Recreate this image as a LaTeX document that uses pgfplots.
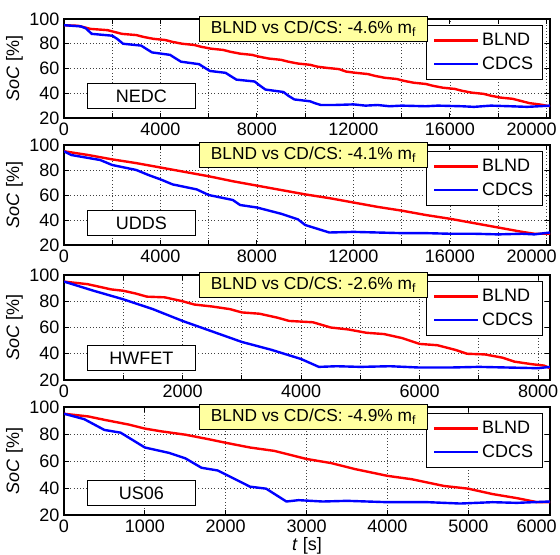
\documentclass[border=0pt]{standalone}
\usepackage{fontspec}
\setmainfont{Liberation Sans}
\usepackage{pgfplots}
\pgfplotsset{compat=1.18}
\newcommand\fs{\fontsize{13.5pt}{16pt}\selectfont}
\definecolor{annoyellow}{RGB}{255,255,160}

\pgfplotsset{
  panel/.style={
    scale only axis, width=364.5pt, anchor=south west,
    ymin=20, ymax=100, ytick={20,40,...,100},
    grid=major, grid style={black!75, dotted, line width=0.6pt},
    axis line style={line width=0.9pt},
    major tick length=3.75pt, tick style={black, line width=0.7pt},
    tick label style={font=\fs},
    /pgf/number format/assume math mode=true,
    scaled x ticks=false,
    ylabel={\fs\textit{SoC} [\%]},
    ylabel style={yshift=-2pt},
    every axis plot/.append style={line width=1.8pt},
    legend style={font=\fs, draw=black, line width=0.7pt, fill=white,
      at={(1,1)}, anchor=north east, xshift=-5.25pt, yshift=-4.5pt,
      inner xsep=5pt, inner ysep=4pt, row sep=2.5pt},
    legend cell align=left,
    legend image code/.code={\draw[##1] (0pt,0pt) -- (33pt,0pt);},
  },
}
\tikzset{
  anno/.style={draw=black, line width=0.7pt, fill=annoyellow, font=\fontsize{13pt}{15pt}\selectfont,
    minimum width=171pt, minimum height=18.75pt, inner sep=0pt, anchor=north west,
    xshift=101.25pt, yshift=2.25pt},
  cyc/.style={draw=black, line width=0.7pt, fill=white, font=\fs,
    minimum width=81pt, minimum height=18.75pt, inner sep=0pt, anchor=south west,
    xshift=17.25pt, yshift=6.75pt},
  lastlab/.style={font=\fs, anchor=north east, inner xsep=0pt, inner ysep=0.333em, xshift=5.25pt},
}

\begin{document}
\begin{tikzpicture}
\useasboundingbox (0,0) rectangle (420pt,-415.5pt);

% ---- NEDC
\begin{axis}[panel, name=p1, at={(48pt,-88.5pt)}, height=74.25pt,
  xmin=0, xmax=20150,
  xtick={0,2000,...,20000},
  xticklabels={0,,4000,,8000,,12000,,16000,,}]
\addplot[red] coordinates {
 (0,95) (600,94.5) (900,93) (1100,92) (1800,91) (2100,89.5) (2400,88) (3000,87)
 (3300,85.5) (3700,84) (4200,83) (4500,81.5) (4900,80) (5400,79) (5700,77.5)
 (6100,76) (6600,75) (6900,73.5) (7300,72) (7800,71) (8100,69.5) (8500,68)
 (9000,67) (9300,65.5) (9700,64) (10200,63) (10500,61.5) (10900,60.5) (11400,59.5)
 (11700,57.5) (12100,56.5) (12600,55.5) (12900,54) (13300,52.5) (13800,51.5)
 (14100,50) (14500,48.5) (15000,47.5) (15300,46) (15700,44.5) (16200,43.5)
 (16500,42) (16900,40.5) (17400,39.5) (17700,38) (18100,36.5) (18600,35.5)
 (18900,34) (19300,32) (19700,31) (20150,29.5)};
\addplot[blue] coordinates {
 (0,95) (700,94) (900,92.5) (1150,88) (2000,86.5) (2200,84) (2450,80) (3200,78.5)
 (3400,76) (3650,73) (4400,71) (4600,68.5) (4850,65.5) (5600,63.5) (5800,61)
 (6050,58) (6700,56.5) (6900,54) (7150,51) (7900,49.5) (8100,46.5) (8350,43)
 (9100,41) (9300,38) (9550,35) (10200,33.5) (10400,32) (10650,30.5) (11200,30.5)
 (12000,31) (12500,30) (13000,30.5) (13500,29.5) (14000,30) (15000,29.5)
 (15500,30) (16500,29.5) (17000,29) (17700,30) (18500,29.5) (19200,29)
 (19700,29.5) (20150,30)};
\legend{BLND, CDCS}
\end{axis}
\node[anno] at (p1.north west) {BLND vs CD/CS: -4.6\% m\textsubscript{f}};
\node[cyc] at (p1.south west) {NEDC};
\node[lastlab] at (p1.south east) {20000};

% ---- UDDS
\begin{axis}[panel, name=p2, at={(48pt,-183.75pt)}, height=75pt,
  xmin=0, xmax=20150,
  xtick={0,2000,...,20000},
  xticklabels={0,,4000,,8000,,12000,,16000,,}]
\addplot[red] coordinates {
 (0,95) (1000,92) (2000,88.5) (3000,85.5) (4000,82) (5000,78.5) (6000,75)
 (7000,71) (8000,67.5) (9000,64) (10000,60.5) (11000,57.5) (12000,54)
 (13000,50.5) (14000,47.5) (15000,44) (16000,41) (17000,37.5) (18000,34)
 (19000,30.5) (19500,29) (20150,29)};
\addplot[blue] coordinates {
 (0,95) (300,92) (1500,88) (2000,84) (3000,80) (3500,76) (4000,72.5) (4500,68.5)
 (5500,64.5) (6000,60) (7000,56) (7300,52) (8000,50) (9000,45) (9700,40.5)
 (10000,36) (10500,33) (11000,30) (12000,30.5) (13000,30) (14000,29.5)
 (15000,29.5) (16000,29) (17000,29) (18000,28.5) (19000,29) (19500,28.5) (20150,30)};
\legend{BLND, CDCS}
\end{axis}
\node[anno] at (p2.north west) {BLND vs CD/CS: -4.1\% m\textsubscript{f}};
\node[cyc] at (p2.south west) {UDDS};
\node[lastlab] at (p2.south east) {20000};

% ---- HWFET
\begin{axis}[panel, name=p3, at={(48pt,-285pt)}, height=78.75pt,
  xmin=0, xmax=8200,
  xtick={0,1000,...,8000},
  xticklabels={0,,2000,,4000,,6000,,8000}]
\addplot[red] coordinates {
 (0,95) (400,93) (600,91) (800,89) (1000,88) (1200,86) (1400,83.5) (1700,83)
 (2000,80) (2200,77.5) (2500,76) (2800,74) (3000,71.5) (3300,70.5) (3600,67.5)
 (3800,65) (4200,64) (4500,60) (4800,58.5) (5100,56) (5400,55) (5700,52)
 (6000,47.5) (6300,46.5) (6600,43) (6800,40) (7100,39.5) (7400,37) (7600,34)
 (7900,32) (8100,31) (8200,29)};
\addplot[blue] coordinates {
 (0,95) (500,88) (1000,81.5) (1500,74) (2000,65) (2500,57) (3000,49) (3500,43)
 (4000,36) (4300,30) (4600,30.5) (5000,30) (5500,30.5) (6000,29.5) (6500,29.5)
 (7000,30) (7500,29.5) (8000,29) (8200,30)};
\legend{BLND, CDCS}
\end{axis}
\node[anno] at (p3.north west) {BLND vs CD/CS: -2.6\% m\textsubscript{f}};
\node[cyc] at (p3.south west) {HWFET};

% ---- US06
\begin{axis}[panel, name=p4, at={(48pt,-386.25pt)}, height=81pt,
  xmin=0, xmax=6010,
  xtick={0,1000,...,6000},
  xticklabels={0,1000,2000,3000,4000,5000,},
  xlabel={\fs\textit{t} [s]}, xlabel style={yshift=3pt}]
\addplot[red] coordinates {
 (0,95) (300,93) (500,90.5) (800,87) (1000,84) (1200,82) (1500,79.5) (1800,76)
 (2000,73.5) (2300,70) (2600,67.5) (3000,61.5) (3300,58.5) (3600,54) (4000,49)
 (4300,46.5) (4700,41.5) (5000,39.5) (5300,35.5) (5600,32.5) (5850,29.5) (6010,29.5)};
\addplot[blue] coordinates {
 (0,95) (250,91) (500,83) (700,81) (1000,70) (1300,66) (1500,62) (1700,55)
 (1900,53) (2100,47) (2300,41) (2500,39.5) (2750,30) (2900,31) (3200,30)
 (3500,30.5) (4000,29.5) (4500,29.5) (4900,28.5) (5300,29.5) (5600,29) (6010,30)};
\legend{BLND, CDCS}
\end{axis}
\node[anno] at (p4.north west) {BLND vs CD/CS: -4.9\% m\textsubscript{f}};
\node[cyc] at (p4.south west) {US06};
\node[lastlab] at (p4.south east) {6000};
\end{tikzpicture}
\end{document}
